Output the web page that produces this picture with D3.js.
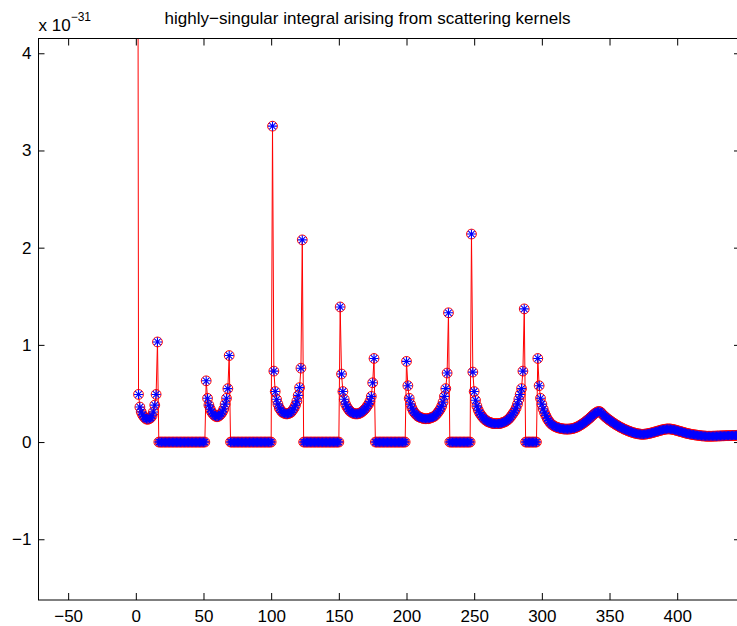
<!DOCTYPE html>
<html>
<head>
<meta charset="utf-8">
<script src="https://cdn.jsdelivr.net/npm/d3@7"></script>
<style>
  body { margin: 0; background: #fff; }
  svg { display: block; font-family: "Liberation Sans", Arial, sans-serif; }
</style>
</head>
<body>
<svg id="chart" width="737" height="626"></svg>
<script>
// values are in units of 1e-31, one per index starting at 1
const panel1 = [12, 0.49, 0.36, 0.31, 0.28, 0.26, 0.245, 0.235, 0.235, 0.24, 0.25, 0.27, 0.31, 0.38, 0.49, 1.03];
const gap1 = [0,0,0,0,0,0,0,0,0,0, 0,0,0,0,0,0,0,0,0,0, 0,0,0,0,0,0,0,0,0,0, 0,0,0,0,0];
const panel2 = [0.63, 0.45, 0.38, 0.34, 0.31, 0.29, 0.275, 0.265, 0.26, 0.265, 0.275, 0.29, 0.31, 0.34, 0.39, 0.45, 0.55, 0.89];
const gap2 = [0,0,0,0,0,0,0,0,0,0, 0,0,0,0,0,0,0,0,0,0, 0,0,0,0,0,0,0,0,0,0, 0];
const panel3 = [3.25, 0.73, 0.52, 0.44, 0.39, 0.35, 0.33, 0.31, 0.30, 0.295, 0.29, 0.29, 0.295, 0.30, 0.31, 0.33, 0.35, 0.38, 0.42, 0.48, 0.56, 0.76, 2.08];
const gap3 = [0,0,0,0,0,0,0,0,0,0, 0,0,0,0,0,0,0,0,0,0, 0,0,0,0,0,0,0];
const panel4 = [1.39, 0.70, 0.52, 0.44, 0.39, 0.36, 0.34, 0.32, 0.31, 0.30, 0.295, 0.29, 0.29, 0.29, 0.295, 0.30, 0.31, 0.32, 0.335, 0.35, 0.37, 0.39, 0.42, 0.47, 0.61, 0.86];
const gap4 = [0,0,0,0,0,0,0,0,0,0, 0,0,0,0,0,0,0,0,0,0, 0,0,0];
const panel5 = [0.83, 0.58, 0.45, 0.39, 0.35, 0.32, 0.30, 0.285, 0.27, 0.26, 0.255, 0.25, 0.245, 0.24, 0.24, 0.24,
  0.24, 0.245, 0.25, 0.255, 0.26, 0.27, 0.285, 0.30, 0.32, 0.34, 0.37, 0.41, 0.47, 0.55, 0.71, 1.33];
const gap5 = [0,0,0,0,0,0,0,0,0,0, 0,0,0,0,0,0];
const panel6 = [2.14, 0.72, 0.52, 0.43, 0.37, 0.33, 0.30, 0.28, 0.26, 0.245, 0.23, 0.22, 0.21, 0.205, 0.20, 0.195, 0.19, 0.19, 0.19, 0.19,
  0.19, 0.19, 0.195, 0.20, 0.205, 0.21, 0.22, 0.23, 0.245, 0.26, 0.28, 0.30, 0.32, 0.35, 0.39, 0.44, 0.49, 0.55, 0.73, 1.37];
const gap6 = [0,0,0,0,0,0,0,0,0];
const panel7 = [
  0.86, 0.58, 0.45, 0.39, 0.34, 0.30, 0.27, 0.24, 0.22, 0.20,
  0.185, 0.175, 0.165, 0.158, 0.152, 0.147, 0.143, 0.14, 0.137, 0.135,
  0.134, 0.133, 0.133, 0.134, 0.135, 0.137, 0.14, 0.144, 0.149, 0.155,
  0.162, 0.17, 0.178, 0.187, 0.197, 0.207, 0.218, 0.23, 0.242, 0.255,
  0.268, 0.28, 0.292, 0.302, 0.31, 0.315, 0.312, 0.30, 0.285, 0.27,
  0.258, 0.246, 0.235, 0.225, 0.215, 0.205, 0.195, 0.186, 0.177, 0.169,
  0.161, 0.153, 0.146, 0.139, 0.132, 0.126, 0.12, 0.114, 0.109, 0.104,
  0.099, 0.095, 0.091, 0.088, 0.085, 0.083, 0.081, 0.08, 0.08, 0.081,
  0.083, 0.085, 0.088, 0.091, 0.094, 0.098, 0.102, 0.106, 0.11, 0.114,
  0.118, 0.122, 0.126, 0.129, 0.132, 0.134, 0.135, 0.135, 0.134, 0.132,
  0.129, 0.126, 0.122, 0.118, 0.114, 0.11, 0.106, 0.102, 0.098, 0.094,
  0.09, 0.087, 0.084, 0.081, 0.078, 0.076, 0.074, 0.072, 0.07, 0.068,
  0.066, 0.064, 0.063, 0.062, 0.061, 0.06, 0.06, 0.06, 0.06, 0.06,
  0.061, 0.061, 0.062, 0.062, 0.063, 0.063, 0.064, 0.064, 0.065, 0.065,
  0.066, 0.066, 0.067, 0.067, 0.068, 0.068, 0.068, 0.069, 0.069, 0.069,
  0.07, 0.07
];

const xTicks = [-50, 0, 50, 100, 150, 200, 250, 300, 350, 400];
const yTicks = [-1, 0, 1, 2, 3, 4];
const titleText = 'highly\u2212singular integral arising from scattering kernels';

const values = [].concat(panel1, gap1, panel2, gap2, panel3, gap3, panel4, gap4, panel5, gap5, panel6, gap6, panel7);
const data = values.map((v, i) => ({ x: i + 1, y: v }));

const plot = { left: 38.5, top: 38.5, right: 740, bottom: 600 };

const x = d3.scaleLinear().domain([-71.9, 446.4]).range([plot.left, plot.right]);
const y = d3.scaleLinear().domain([-1.625, 4.152]).range([plot.bottom, plot.top]);

const svg = d3.select('#chart');

svg.append('defs').append('clipPath')
    .attr('id', 'plot-clip')
  .append('rect')
    .attr('x', plot.left)
    .attr('y', plot.top)
    .attr('width', plot.right - plot.left)
    .attr('height', plot.bottom - plot.top);

// Series: red line with red circles, blue asterisks on top
const g = svg.append('g').attr('clip-path', 'url(#plot-clip)');

g.append('path')
  .datum(data)
  .attr('fill', 'none')
  .attr('stroke', '#ff0000')
  .attr('stroke-width', 1)
  .attr('d', d3.line().x(d => x(d.x)).y(d => y(d.y)));

g.selectAll('circle')
  .data(data)
  .join('circle')
    .attr('cx', d => x(d.x))
    .attr('cy', d => y(d.y))
    .attr('r', 4.9)
    .attr('fill', 'none')
    .attr('stroke', '#ff0000')
    .attr('stroke-width', 1);

const r = 4.6, a = r * 0.7071;
const star = `M${-r},0L${r},0M0,${-r}L0,${r}M${-a},${-a}L${a},${a}M${-a},${a}L${a},${-a}`;

g.selectAll('path.star')
  .data(data)
  .join('path')
    .attr('class', 'star')
    .attr('transform', d => `translate(${x(d.x)},${y(d.y)})`)
    .attr('d', star)
    .attr('stroke', '#0000ff')
    .attr('stroke-width', 1.1)
    .attr('fill', 'none');

// Axes box with inward ticks on all four sides
const fontSize = '17px';

const bottomAxis = svg.append('g')
  .attr('transform', `translate(0,${plot.bottom})`)
  .call(d3.axisBottom(x).tickValues(xTicks).tickSizeInner(-7).tickSizeOuter(0).tickPadding(10).tickFormat(d3.format('d')));
const topAxis = svg.append('g')
  .attr('transform', `translate(0,${plot.top})`)
  .call(d3.axisTop(x).tickValues(xTicks).tickSizeInner(-7).tickSizeOuter(0).tickFormat(''));
const leftAxis = svg.append('g')
  .attr('transform', `translate(${plot.left},0)`)
  .call(d3.axisLeft(y).tickValues(yTicks).tickSizeInner(-6).tickSizeOuter(0).tickPadding(7).tickFormat(d3.format('d')));
const rightAxis = svg.append('g')
  .attr('transform', `translate(${plot.right},0)`)
  .call(d3.axisRight(y).tickValues(yTicks).tickSizeInner(-6).tickSizeOuter(0).tickFormat(''));

[bottomAxis, topAxis, leftAxis, rightAxis].forEach(ax => {
  ax.select('.domain').remove();
  ax.selectAll('line').attr('stroke', '#000');
  ax.selectAll('text')
    .attr('fill', '#000')
    .style('font-size', fontSize)
    .style('font-family', '"Liberation Sans", Arial, sans-serif');
});

svg.append('rect')
  .attr('x', plot.left)
  .attr('y', plot.top)
  .attr('width', plot.right - plot.left)
  .attr('height', plot.bottom - plot.top)
  .attr('fill', 'none')
  .attr('stroke', '#000')
  .attr('stroke-width', 1);

// Title and exponent label
svg.append('text')
  .attr('x', 367.5)
  .attr('y', 24)
  .attr('text-anchor', 'middle')
  .style('font-size', fontSize)
  .text(titleText);

const expo = svg.append('text')
  .attr('x', 38.5)
  .attr('y', 31)
  .style('font-size', fontSize)
  .text('x 10');
expo.append('tspan')
  .attr('dy', -10)
  .style('font-size', '12px')
  .text('\u221231');
</script>
</body>
</html>
